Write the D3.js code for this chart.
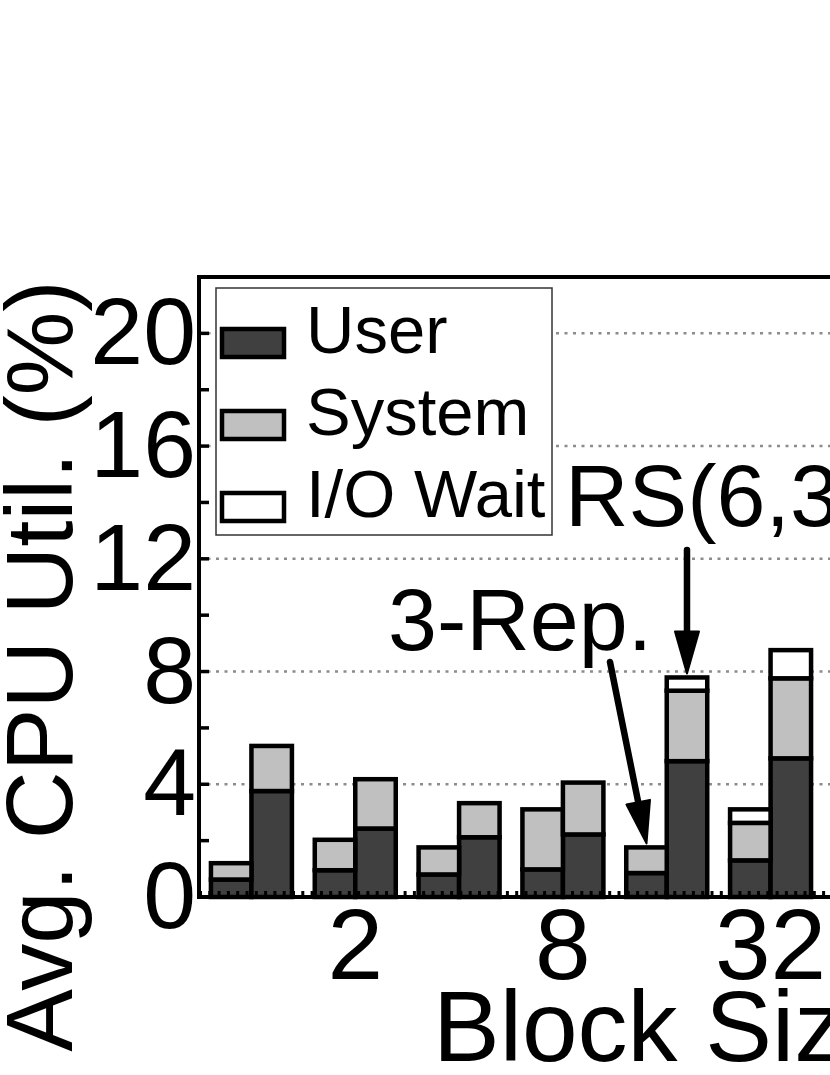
<!DOCTYPE html>
<html>
<head>
<meta charset="utf-8">
<script src="https://cdn.jsdelivr.net/npm/d3@7/dist/d3.min.js"></script>
<style>
  body { margin: 0; background: #fff; }
  svg { display: block; font-family: "Liberation Sans", Arial, sans-serif; }
</style>
</head>
<body>
<svg id="chart" width="830" height="1075"></svg>
<script>
// block sizes (MB) and the two redundancy schemes
const blockSizes = ["1", "2", "4", "8", "16", "32"];
const labeledSizes = ["2", "8", "32"];
const schemes = ["3-Rep.", "RS(6,3)"];
const seriesNames = ["User", "System", "I/O Wait"];

// avg CPU utilization (%) per block size
const rep3User = [0.62, 0.95, 0.80, 0.98, 0.85, 1.30];
const rep3System = [0.58, 1.08, 0.96, 2.13, 0.91, 1.33];
const rep3IoWait = [0, 0, 0, 0, 0, 0.48];
const rsUser = [3.76, 2.43, 2.12, 2.22, 4.82, 4.92];
const rsSystem = [1.60, 1.75, 1.21, 1.84, 2.50, 2.84];
const rsIoWait = [0, 0, 0, 0, 0.47, 1.00];

const yTicks = [0, 4, 8, 12, 16, 20];
const yAxisTicks = [0, 2, 4, 6, 8, 10, 12, 14, 16, 18, 20];

const colors = ["#404040", "#c0c0c0", "#ffffff"];

const svg = d3.select("#chart");
const plotLeft = 199, plotTop = 277, plotBottom = 897;

const y = d3.scaleLinear().domain([0, 22]).range([plotBottom, plotTop]);
const x = d3.scaleBand().domain(blockSizes).range([plotLeft, 823])
    .paddingInner(0.22).paddingOuter(0.115);
const xi = d3.scaleBand().domain(schemes).range([0, x.bandwidth()]);

// rows for the stack
const rows = [];
blockSizes.forEach((b, i) => {
  rows.push({ size: b, scheme: schemes[0], User: rep3User[i], System: rep3System[i], "I/O Wait": rep3IoWait[i] });
  rows.push({ size: b, scheme: schemes[1], User: rsUser[i], System: rsSystem[i], "I/O Wait": rsIoWait[i] });
});
const stack = d3.stack().keys(seriesNames)(rows);

// dotted grid
svg.append("g").selectAll("line")
  .data(yTicks.filter(d => d > 0))
  .enter().append("line")
  .attr("x1", plotLeft).attr("x2", 900)
  .attr("y1", d => y(d)).attr("y2", d => y(d))
  .attr("stroke", "#8c8c8c").attr("stroke-width", 2.5)
  .attr("stroke-dasharray", "3,5.5");

// bars
const layers = svg.append("g").selectAll("g")
  .data(stack)
  .enter().append("g")
  .attr("fill", (d, i) => colors[i]);

layers.selectAll("rect")
  .data(d => d.filter(s => s[1] - s[0] > 0))
  .enter().append("rect")
  .attr("x", d => x(d.data.size) + xi(d.data.scheme))
  .attr("width", xi.bandwidth())
  .attr("y", d => y(d[1]))
  .attr("height", d => y(d[0]) - y(d[1]))
  .attr("stroke", "#000").attr("stroke-width", 4.5);

// dotted zero line over bars
svg.append("line")
  .attr("x1", plotLeft).attr("x2", 900)
  .attr("y1", y(0) - 4).attr("y2", y(0) - 4)
  .attr("stroke", "#000").attr("stroke-width", 4)
  .attr("stroke-dasharray", "3,6.3");

// y ticks
svg.append("g").selectAll("line")
  .data(yAxisTicks)
  .enter().append("line")
  .attr("x1", plotLeft).attr("x2", plotLeft + 10)
  .attr("y1", d => y(d)).attr("y2", d => y(d))
  .attr("stroke", "#000").attr("stroke-width", 3.5);

// frame
svg.append("rect")
  .attr("x", plotLeft).attr("y", plotTop)
  .attr("width", 800).attr("height", plotBottom - plotTop)
  .attr("fill", "none").attr("stroke", "#000").attr("stroke-width", 4);

// y tick labels
svg.append("g").selectAll("text")
  .data(yTicks)
  .enter().append("text")
  .attr("x", 196).attr("y", d => y(d) + 31)
  .attr("text-anchor", "end")
  .attr("font-size", 95)
  .text(d => d);

// x tick labels
svg.append("g").selectAll("text")
  .data(labeledSizes)
  .enter().append("text")
  .attr("x", d => x(d) + x.bandwidth() / 2)
  .attr("y", 979)
  .attr("text-anchor", "middle")
  .attr("font-size", 100)
  .text(d => d);

// axis titles
svg.append("text")
  .attr("transform", "translate(72,666) rotate(-90)")
  .attr("text-anchor", "middle")
  .attr("font-size", 94)
  .text("Avg. CPU Util. (%)");

svg.append("text")
  .attr("x", 433).attr("y", 1061)
  .attr("font-size", 100)
  .text("Block Size (MB)");

// legend
const legend = svg.append("g");
legend.append("rect")
  .attr("x", 216).attr("y", 288).attr("width", 336).attr("height", 247)
  .attr("fill", "#fff").attr("stroke", "#333").attr("stroke-width", 1.5);
const items = legend.selectAll("g.item")
  .data(seriesNames)
  .enter().append("g").attr("class", "item")
  .attr("transform", (d, i) => `translate(0,${i * 82})`);
items.append("rect")
  .attr("x", 222).attr("y", 329).attr("width", 62).attr("height", 28)
  .attr("fill", (d, i) => colors[i])
  .attr("stroke", "#000").attr("stroke-width", 4.5);
items.append("text")
  .attr("x", 306).attr("y", 353)
  .attr("font-size", 67)
  .text(d => d);

// annotations
function arrow(x1, y1, x2, y2) {
  const ang = Math.atan2(y2 - y1, x2 - x1);
  const len = 42, half = 12;
  const bx = x2 - len * Math.cos(ang), by = y2 - len * Math.sin(ang);
  svg.append("line")
    .attr("x1", x1).attr("y1", y1).attr("x2", bx).attr("y2", by)
    .attr("stroke", "#000").attr("stroke-width", 6.5).attr("stroke-linecap", "round");
  const px = -Math.sin(ang) * half, py = Math.cos(ang) * half;
  svg.append("path")
    .attr("d", `M${x2},${y2}L${bx + px},${by + py}L${bx - px},${by - py}Z`)
    .attr("fill", "#000").attr("stroke", "#000").attr("stroke-width", 2)
    .attr("stroke-linejoin", "round");
}

const i16 = blockSizes.indexOf("16");
const rsTip = x("16") + xi("RS(6,3)") + xi.bandwidth() / 2;
const rsTop = y(rsUser[i16] + rsSystem[i16] + rsIoWait[i16]) - 4;
const repTip = x("16") + xi("3-Rep.") + xi.bandwidth() / 2;
const repTop = y(rep3User[i16] + rep3System[i16] + rep3IoWait[i16]) - 4;

svg.append("text").attr("x", 565).attr("y", 526).attr("font-size", 88).text("RS(6,3)");
svg.append("text").attr("x", 388).attr("y", 650).attr("font-size", 88).text("3-Rep.");

arrow(rsTip, 550, rsTip, rsTop);
arrow(610, 662, repTip, repTop);
</script>
</body>
</html>
